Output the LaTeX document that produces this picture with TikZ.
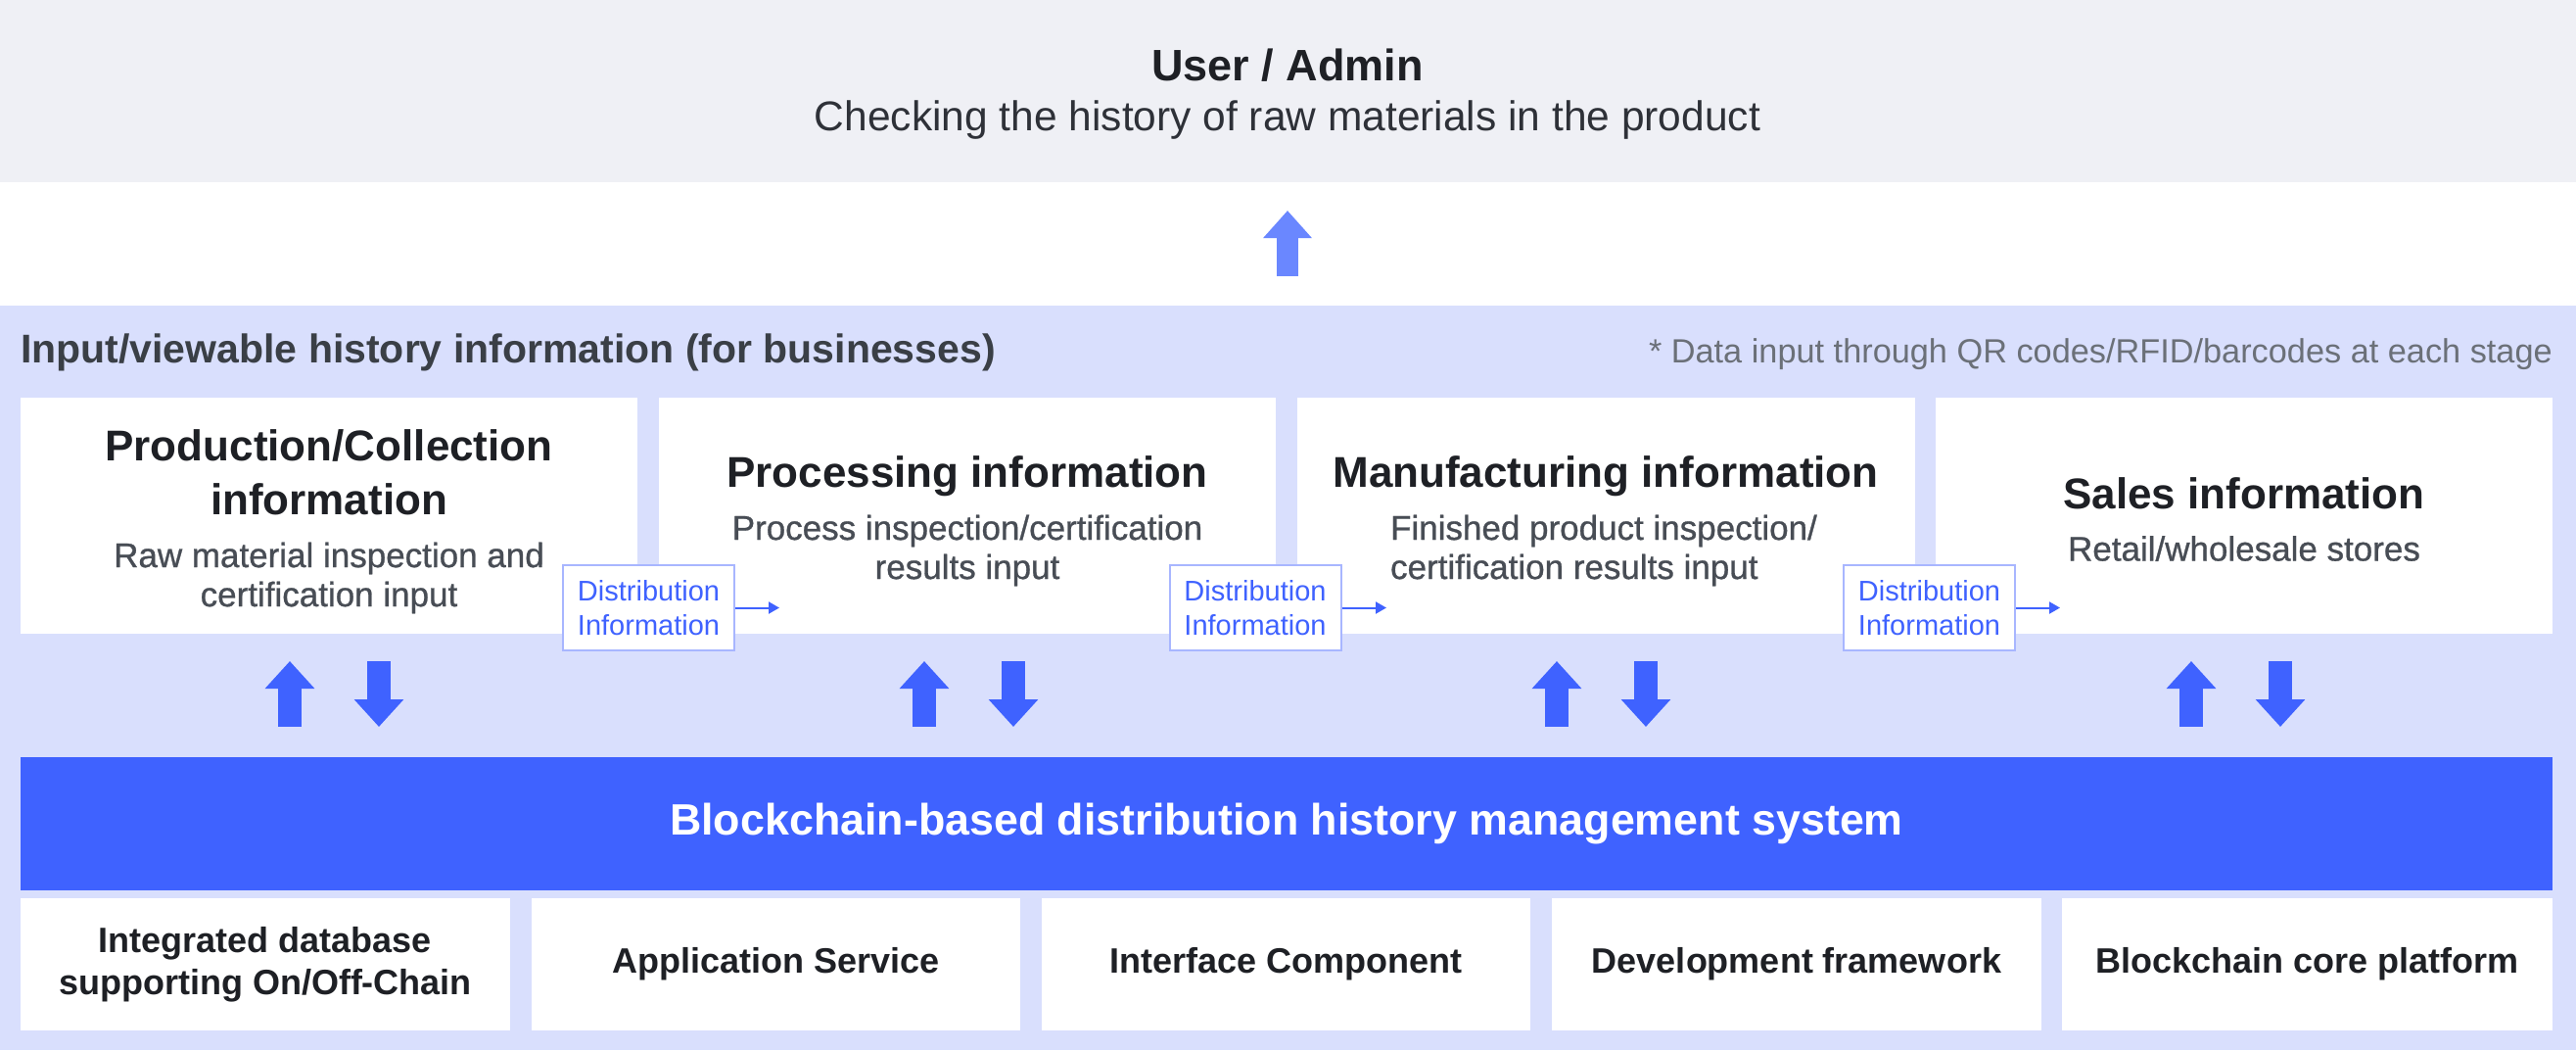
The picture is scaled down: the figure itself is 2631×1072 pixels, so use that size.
\documentclass[tikz,border=0pt]{standalone}
\usepackage{fontspec}
\setmainfont{Liberation Sans}
\newfontfamily\medfont[FakeBold=0.8]{Liberation Sans}
\usetikzlibrary{arrows.meta,calc}
\definecolor{topgray}{HTML}{EFF0F5}
\definecolor{lav}{HTML}{D9DFFD}
\definecolor{mainblue}{HTML}{3F62FF}
\definecolor{lightarrow}{HTML}{6A87FF}
\definecolor{distborder}{HTML}{A8B6FF}
\definecolor{titletext}{HTML}{1E2025}
\definecolor{subtext}{HTML}{484D55}
\definecolor{headtext}{HTML}{3A3F46}
\definecolor{notetext}{HTML}{6B7078}
\definecolor{checktext}{HTML}{2E3138}
\tikzset{
  rect/.style 2 args={rectangle, minimum width=#1pt, minimum height=#2pt, inner sep=0pt, outer sep=0pt, draw=none},
  whitebox/.style={fill=white},
  distbox/.style={rectangle, fill=white, draw=distborder, line width=2pt, minimum width=175pt, minimum height=87pt, inner sep=0pt, align=center, text=mainblue, font=\fontsize{29}{35}\selectfont},
  distarrow/.style={draw=mainblue, line width=2pt, -{Triangle[length=11pt,width=12pt]}},
  bigarrow/.style={draw=mainblue, line width=24pt, -{Triangle[length=28pt,width=49pt]}},
  toparrow/.style={draw=lightarrow, line width=22pt, -{Triangle[length=28pt,width=48pt]}},
  stagetitle/.style={align=center, text=titletext, font=\bfseries\fontsize{44}{55}\selectfont, inner sep=0pt},
  stagesub/.style={align=center, text=subtext, font=\medfont\fontsize{35}{40}\selectfont, inner sep=0pt},
  bottomtext/.style={align=center, text=titletext, font=\bfseries\fontsize{36}{43}\selectfont, inner sep=0pt},
}
\begin{document}
\begin{tikzpicture}[x=1pt,y=-1pt]
\useasboundingbox (0,0) rectangle (2631,1072);
% background areas
\node[rect={2631}{186}, fill=topgray] (user) at (1315.5,93) {};
\node[rect={2631}{760}, fill=lav] (panel) at (1315.5,692) {};
% top texts
\node[inner sep=0pt, text=titletext, font=\bfseries\fontsize{45}{54}\selectfont] (usertitle) at (1315,67) {User / Admin};
\node[inner sep=0pt, text=checktext, font=\fontsize{42.5}{50}\selectfont] (usersub) at (1315,123) {Checking the history of raw materials in the product};
% top arrow
\coordinate (ta) at (1315,282);
\coordinate (tb) at (1315,215);
\draw[toparrow] (ta) -- (tb);
% heading and note
\node[anchor=west, inner sep=0pt, text=headtext, font=\bfseries\fontsize{41}{48}\selectfont] (heading) at (21,360) {Input/viewable history information (for businesses)};
\node[anchor=east, inner sep=0pt, text=notetext, font=\fontsize{34.3}{40}\selectfont] (note) at (2607,362) {* Data input through QR codes/RFID/barcodes at each stage};
% stage boxes
\node[rect={630}{241}, whitebox] (s1) at (336,526.5) {};
\node[rect={630}{241}, whitebox] (s2) at (988,526.5) {};
\node[rect={631}{241}, whitebox] (s3) at (1640.5,526.5) {};
\node[rect={630}{241}, whitebox] (s4) at (2292,526.5) {};
% stage texts
\node[stagetitle] (t1) at (336,482) {Production/Collection\\information};
\node[stagesub] (u1) at (336,590) {Raw material inspection and\\certification input};
\node[stagetitle] (t2) at (988,486) {Processing information};
\node[stagesub] (u2) at (988,562) {Process inspection/certification\\results input};
\node[stagetitle] (t3) at (1640,486) {Manufacturing information};
\node[stagesub, align=left] (u3) at (1638,562) {Finished product inspection/\\certification results input};
\node[stagetitle] (t4) at (2292,504) {Sales information};
\node[stagesub] (u4) at (2292,560) {Retail/wholesale stores};
% distribution boxes
\node[distbox] (d1) at (662.5,620.5) {Distribution\\Information};
\node[distbox] (d2) at (1282,620.5) {Distribution\\Information};
\node[distbox] (d3) at (1970.5,620.5) {Distribution\\Information};
\coordinate (d1e) at (796,620.5);
\coordinate (d2e) at (1416,620.5);
\coordinate (d3e) at (2104,620.5);
\draw[distarrow] (d1) -- (d1e);
\draw[distarrow] (d2) -- (d2e);
\draw[distarrow] (d3) -- (d3e);
% blockchain bar
\node[rect={2586}{136}, fill=mainblue, text=white, font=\bfseries\fontsize{44.8}{52}\selectfont] (bar) at (1314,841) {Blockchain-based distribution history management system};
% up/down arrows
\foreach \i/\ux/\dx in {1/296/387, 2/944/1035, 3/1590/1681, 4/2238/2329} {
  \coordinate (up\i a) at (\ux,742);
  \coordinate (up\i b) at (\ux,675);
  \coordinate (dn\i a) at (\dx,675);
  \coordinate (dn\i b) at (\dx,742);
  \draw[bigarrow] (up\i a) -- (up\i b);
  \draw[bigarrow] (dn\i a) -- (dn\i b);
}
% bottom boxes
\node[rect={500}{135}, whitebox, bottomtext] (b1) at (271,984.5) {Integrated database\\supporting On/Off-Chain};
\node[rect={499}{135}, whitebox, bottomtext] (b2) at (792.5,984.5) {Application Service};
\node[rect={499}{135}, whitebox, bottomtext] (b3) at (1313.5,984.5) {Interface Component};
\node[rect={500}{135}, whitebox, bottomtext] (b4) at (1835,984.5) {Development framework};
\node[rect={501}{135}, whitebox, bottomtext] (b5) at (2356.5,984.5) {Blockchain core platform};
\end{tikzpicture}
\end{document}
